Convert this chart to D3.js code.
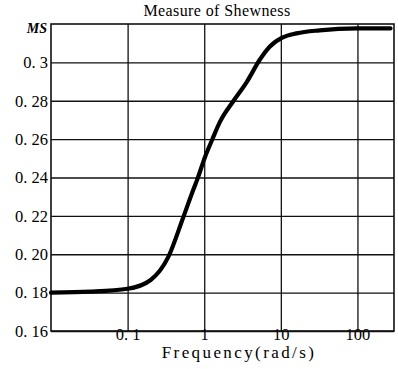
<!DOCTYPE html>
<html>
<head>
<meta charset="utf-8">
<script src="https://cdn.jsdelivr.net/npm/d3@7"></script>
<style>
  body { margin: 0; background: #fff; }
  text { font-family: "Liberation Serif", "DejaVu Serif", serif; fill: #000; }
</style>
</head>
<body>
<div id="chart"></div>
<script>
// values
var freq = [0.01, 0.033, 0.1, 0.2, 0.34, 0.53, 0.72, 0.81, 1.03, 1.27, 1.61, 2.38, 3.62, 5.33, 7.2, 10.6, 16, 32, 100, 270];
var ms   = [0.18, 0.1805, 0.182, 0.1866, 0.1986, 0.219, 0.2336, 0.2389, 0.2509, 0.2597, 0.2691, 0.2796, 0.290, 0.3015, 0.3083, 0.313, 0.3151, 0.3167, 0.3177, 0.3177];

var yTicks = [0.16, 0.18, 0.20, 0.22, 0.24, 0.26, 0.28, 0.30];
var yLabels = ["0. 16", "0. 18", "0. 20", "0. 22", "0. 24", "0. 26", "0. 28", "0. 3"];
var xTicks = [0.1, 1, 10, 100];
var xLabels = ["0. 1", "1", "10", "100"];

var title = "Measure of Shewness";
var xTitle = "Frequency(rad/s)";
var yTitle = "MS";

var width = 398, height = 369;
var margin = {top: 24, right: 4, bottom: 38, left: 51};
var w = width - margin.left - margin.right,
    h = height - margin.top - margin.bottom;

var svg = d3.select("#chart").append("svg")
    .attr("width", width)
    .attr("height", height)
  .append("g")
    .attr("transform", "translate(" + margin.left + "," + margin.top + ")");

var x = d3.scaleLog().domain([0.01, 300]).range([0, w]);
var y = d3.scaleLinear().domain([0.16, 0.32]).range([h, 0]);

// grid + labels
var yAxis = svg.append("g")
    .call(d3.axisLeft(y).tickValues(yTicks)
        .tickFormat(function(d, i) { return yLabels[i]; })
        .tickSize(-w).tickPadding(3));
var xAxis = svg.append("g")
    .attr("transform", "translate(0," + h + ")")
    .call(d3.axisBottom(x).tickValues(xTicks)
        .tickFormat(function(d, i) { return xLabels[i]; })
        .tickSizeInner(-h).tickSizeOuter(0).tickPadding(-1));

[yAxis, xAxis].forEach(function(a) {
    a.select(".domain").remove();
    a.selectAll(".tick line").attr("stroke", "#111").attr("stroke-width", 1.3);
    a.selectAll(".tick text").attr("font-size", 16.5)
        .style("font-family", "'Liberation Serif', serif");
});
xAxis.selectAll(".tick text").attr("dy", "0.6em");

// frame
svg.append("rect")
    .attr("width", w).attr("height", h)
    .attr("fill", "none")
    .attr("stroke", "#111")
    .attr("stroke-width", 1.6);

// curve
var line = d3.line()
    .x(function(d, i) { return x(freq[i]); })
    .y(function(d) { return y(d); })
    .curve(d3.curveMonotoneX);

svg.append("path")
    .datum(ms)
    .attr("d", line)
    .attr("fill", "none")
    .attr("stroke", "#000")
    .attr("stroke-width", 4.2)
    .attr("stroke-linecap", "round");

// texts
svg.append("text")
    .attr("x", 166)
    .attr("y", -8)
    .attr("text-anchor", "middle")
    .attr("font-size", 16)
    .attr("letter-spacing", 0.4)
    .text(title);

svg.append("text")
    .attr("x", -4)
    .attr("y", 9)
    .attr("text-anchor", "end")
    .attr("font-size", 14)
    .attr("font-style", "italic")
    .attr("font-weight", "bold")
    .text(yTitle);

svg.append("text")
    .attr("x", 188)
    .attr("y", h + 27)
    .attr("text-anchor", "middle")
    .attr("font-size", 17)
    .attr("letter-spacing", 2.4)
    .text(xTitle);
</script>
</body>
</html>
